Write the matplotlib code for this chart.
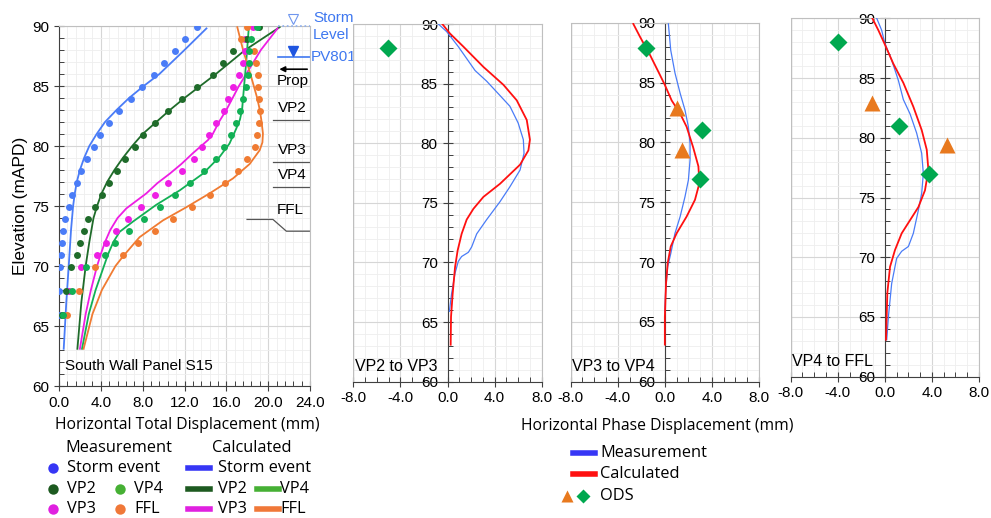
import matplotlib
matplotlib.use("Agg")
import matplotlib.pyplot as plt
from matplotlib.ticker import MultipleLocator, FormatStrFormatter

plt.rcParams['font.family'] = ['Liberation Sans', 'DejaVu Sans']

# ---------------- data: total displacement panel ----------------
elev_meas = [89.9, 88.9, 87.9, 86.9, 85.9, 84.9, 83.9, 82.9, 81.9, 80.9, 79.9, 78.9,
             77.9, 76.9, 75.9, 74.9, 73.9, 72.9, 71.9, 70.9, 69.9, 67.9, 65.9]
meas_storm = [13.2, 12.0, 11.1, 10.05, 9.06, 7.98, 6.86, 5.74, 4.79, 3.96, 3.32, 2.68,
              2.14, 1.69, 1.28, 0.93, 0.57, 0.38, 0.26, 0.16, 0.07, 0.0, 0.0]
meas_vp2 = [19.1, 18.0, 16.6, 15.7, 14.7, 13.15, 11.8, 10.4, 9.16, 8.03, 7.24, 6.28,
            5.5, 4.8, 4.15, 3.45, 2.8, 2.4, 2.0, 1.76, 1.12, 0.7, 0.3]
meas_vp3 = [18.55, 17.75, 17.8, 17.55, 17.2, 16.66, 16.18, 15.77, 15.05, 14.34, 13.67, 12.88,
            11.73, 10.46, 9.15, 7.88, 6.6, 5.49, 4.47, 3.67, 2.14, 1.0, 0.35]
meas_vp4 = [18.9, 18.4, 18.2, 18.15, 18.1, 17.9, 17.55, 17.35, 16.9, 16.4, 15.78, 14.98,
            13.87, 12.56, 11.12, 9.63, 8.1, 6.66, 5.4, 4.37, 2.55, 1.25, 0.38]
meas_ffl = [18.0, 17.4, 18.6, 18.8, 19.0, 19.0, 19.1, 19.2, 19.12, 18.96, 18.7, 18.0,
            17.1, 15.9, 14.4, 12.75, 10.9, 9.2, 7.6, 6.12, 3.48, 1.88, 0.76]

calc_storm_y = [89.8, 88, 86, 85, 84, 83, 82, 81, 80, 79, 78, 77, 76, 75, 73, 70, 67, 63.1]
calc_storm_x = [14.1, 12.0, 9.6, 8.1, 6.7, 5.5, 4.4, 3.6, 2.9, 2.4, 2.0, 1.7, 1.5, 1.35, 1.15, 0.93, 0.7, 0.45]
calc_vp2_y = [89.9, 88, 87, 86, 85, 84, 83, 82, 81, 80, 79, 78, 77, 76, 75, 74, 72, 70, 67, 63.1]
calc_vp2_x = [21.1, 17.8, 16.4, 15.0, 13.5, 12.0, 10.6, 9.3, 8.0, 7.0, 6.1, 5.3, 4.6, 4.05, 3.64, 3.3, 2.9, 2.55, 2.14, 1.76]
calc_vp3_y = [89.8, 88, 86, 85, 84, 83, 82.1, 81, 80.5, 79.4, 78.5, 77.7, 76.9, 76.05, 74.8, 74, 73,
              72, 71, 70, 68, 66, 63.1]
calc_vp3_x = [20.9, 19.3, 17.9, 17.2, 16.6, 16.0, 15.36, 14.7, 14.25, 12.8, 11.7, 10.6, 9.4, 8.35, 6.44,
              5.6, 4.9, 4.4, 4.0, 3.64, 3.05, 2.55, 2.0]
calc_vp4_y = [89.9, 87, 85, 83, 82.2, 81.45, 80.2, 79.1, 77.7, 76.3, 75.1, 73.7, 72.85, 72, 71, 70, 68, 66, 63.1]
calc_vp4_x = [18.15, 17.9, 17.7, 17.5, 17.3, 16.95, 16.3, 15.36, 13.77, 11.54, 9.3, 7.07, 5.8, 5.2, 4.7,
              4.3, 3.5, 2.85, 2.2]
calc_ffl_y = [89.9, 88, 86, 84, 83, 82.15, 81.04, 80.3, 79.65, 78.5, 77.3, 76.05, 74.9, 73.8, 72.4, 70.8,
              70, 68, 66, 63.1]
calc_ffl_x = [17.05, 17.6, 18.3, 18.95, 19.2, 19.35, 19.5, 19.45, 19.19, 18.23, 16.64, 14.4, 12.18, 9.94,
              7.7, 6.12, 5.4, 4.1, 3.2, 2.35]

# ---------------- data: phase displacement panels ----------------
p23_meas_y = [90, 89.36, 88.1, 87.1, 86.1, 85.2, 84.0, 83.1, 81.7, 80.3, 79.15, 77.75, 76.35, 75.1,
              73.6, 72.4, 71.3, 70.85, 70.5, 70.1, 69.1, 67.4, 65.9]
p23_meas_x = [-0.78, -0.07, 0.92, 1.63, 2.34, 3.33, 4.46, 5.3, 6.0, 6.44, 6.5, 6.16, 5.3, 4.46,
              3.33, 2.48, 2.05, 1.77, 1.2, 0.92, 0.64, 0.35, 0.16]
p23_calc_y = [90, 89.2, 88.1, 86.4, 84.9, 83.6, 81.95, 80.3, 79.4, 78.2, 76.6, 75.5, 74.5, 73.6,
              72.4, 71.0, 69.6, 67.4, 65.45, 63.1]
p23_calc_x = [-0.44, 0.21, 1.35, 3.05, 4.75, 5.88, 6.73, 7.0, 6.87, 6.16, 4.46, 3.05, 2.2, 1.63,
              1.2, 0.86, 0.64, 0.44, 0.3, 0.27]
p23_dia_x, p23_dia_y = [-5.02], [88.0]
p23_tri_x, p23_tri_y = [], []

p34_meas_y = [89.9, 87.7, 85.8, 84.1, 82.7, 81.3, 79.9, 78.5, 76.85, 75.45, 73.8, 72.4, 70.7, 69.6, 67.65, 65.85]
p34_meas_x = [0.3, 0.5, 0.86, 1.3, 1.71, 2.0, 2.14, 2.14, 2.0, 1.71, 1.3, 0.86, 0.5, 0.24, 0.07, 0.0]
p34_calc_y = [89.9, 88.8, 87.3, 85.9, 84.8, 83.5, 82.4, 81.3, 79.6, 78.0, 76.6, 75.2, 73.8, 72.4,
              71.3, 69.9, 68.2, 65.4, 63.1]
p34_calc_x = [-2.68, -2.1, -1.26, -0.55, 0.0, 0.58, 1.3, 1.85, 2.4, 2.85, 2.94, 2.56, 1.85, 1.0,
              0.5, 0.24, 0.1, 0.0, 0.0]
p34_dia_x, p34_dia_y = [-1.57, 3.13, 2.99], [87.9, 81.0, 76.9]
p34_tri_x, p34_tri_y = [1.0, 1.46], [82.9, 79.4]

p4f_meas_y = [90, 89.0, 87.9, 86.5, 84.8, 83.2, 82.0, 80.4, 78.7, 77.0, 75.35, 73.95, 72.0, 70.9,
              70.5, 69.9, 67.8, 65.0, 63.1]
p4f_meas_x = [-0.69, -0.27, 0.0, 0.58, 1.15, 1.57, 2.14, 2.7, 3.13, 3.27, 3.13, 2.85, 2.42, 2.0,
              1.43, 1.0, 0.58, 0.3, 0.16]
p4f_calc_y = [90, 89.0, 87.9, 86.2, 84.6, 82.6, 80.65, 79.0, 77.3, 75.6, 74.2, 73.1, 72.0, 70.6,
              69.2, 67.0, 63.1]
p4f_calc_x = [-1.06, -0.55, -0.04, 0.72, 1.57, 2.42, 3.13, 3.56, 3.7, 3.41, 2.85, 2.14, 1.43, 0.86,
              0.44, 0.21, 0.1]
p4f_dia_x, p4f_dia_y = [-4.0, 1.23, 3.78], [88.0, 81.0, 76.97]
p4f_tri_x, p4f_tri_y = [-1.12, 5.25], [82.9, 79.4]

# wall levels marked on the right of the first panel
storm_level = 90.0
pv801_level = 87.42
prop_level = 86.4
vp_levels = {"VP2": 82.2, "VP3": 78.68, "VP4": 76.6}

# colours
C_STORM = '#4a7cf7'
C_VP2 = '#1f6b2a'
C_VP3 = '#ee1ee4'
C_VP4 = '#12b055'
C_FFL = '#f07b32'
C_RED = '#ff1010'
C_DIA = '#00a84f'
C_TRI = '#e8791e'
GRID_MAJ = '#d6d6d6'
GRID_MIN = '#eeeeee'
SPINE = '#404040'
FS = 11


def style_grid(ax):
    ax.grid(which='major', color=GRID_MAJ, lw=0.8, zorder=0)
    ax.grid(which='minor', color=GRID_MIN, lw=0.6, zorder=0)
    ax.set_axisbelow(True)
    ax.tick_params(which='major', direction='inout', length=7, width=0.8, color=SPINE, labelsize=FS)
    ax.tick_params(which='minor', direction='in', length=3.5, width=0.7, color=SPINE)


def plot_total(ax):
    ax.set_xlim(0, 24)
    ax.set_ylim(60, 90)
    ax.xaxis.set_major_locator(MultipleLocator(4))
    ax.xaxis.set_minor_locator(MultipleLocator(0.8))
    ax.yaxis.set_major_locator(MultipleLocator(5))
    ax.yaxis.set_minor_locator(MultipleLocator(1))
    ax.xaxis.set_major_formatter(FormatStrFormatter('%.1f'))
    style_grid(ax)
    for s in ('top', 'right'):
        ax.spines[s].set_color('#bfbfbf')
    for s in ('left', 'bottom'):
        ax.spines[s].set_color(SPINE)

    curves = [(calc_storm_x, calc_storm_y, C_STORM), (calc_vp2_x, calc_vp2_y, C_VP2),
              (calc_vp3_x, calc_vp3_y, C_VP3), (calc_vp4_x, calc_vp4_y, C_VP4),
              (calc_ffl_x, calc_ffl_y, C_FFL)]
    for x, y, c in curves:
        ax.plot(x, y, color=c, lw=1.3, zorder=3)
    dots = [(meas_vp3, C_VP3), (meas_storm, C_STORM), (meas_vp2, C_VP2),
            (meas_ffl, C_FFL), (meas_vp4, C_VP4)]
    for x, c in dots:
        ax.plot(x, elev_meas, 'o', color=c, ms=5, mec='none', zorder=4)

    # level markers on the right side
    ax.plot([20.9, 24], [storm_level, storm_level], ls=':', color='#8fb0ee', lw=1.2, clip_on=False, zorder=5)
    ax.plot(22.4, storm_level + 0.6, marker='v', ms=7, mfc='none', mec='#6f96ee', mew=0.8, clip_on=False)
    ax.text(24.3, storm_level + 0.65, "Storm", color='#3f78f0', fontsize=FS, ha='left', va='center')
    ax.text(24.3, storm_level - 0.75, "Level", color='#3f78f0', fontsize=FS, ha='left', va='center')
    ax.plot([20.9, 24], [pv801_level, pv801_level], color='#3f78f0', lw=1.2, clip_on=False)
    ax.plot(22.4, pv801_level + 0.48, marker='v', ms=7.5, color='#1f55e0', clip_on=False)
    ax.text(24.1, pv801_level, "PV801", color='#3f78f0', fontsize=FS, ha='left', va='center')
    ax.annotate('', xy=(20.8, prop_level), xytext=(24, prop_level),
                arrowprops=dict(arrowstyle='-|>', color='black', lw=1.2, mutation_scale=8))
    ax.text(20.8, prop_level - 0.95, "Prop", fontsize=FS, ha='left', va='center')
    for name, lev in vp_levels.items():
        ax.plot([20.46, 24], [lev, lev], color='#555555', lw=0.9)
        ax.text(20.9, lev + 0.95, name, fontsize=FS, ha='left', va='center')
    ax.plot([17.98, 20.46, 21.74, 24], [73.88, 73.88, 72.9, 72.9], color='#555555', lw=0.9)
    ax.text(20.8, 74.65, "FFL", fontsize=FS, ha='left', va='center')
    ax.text(0.55, 61.65, "South Wall Panel S15", fontsize=FS, ha='left', va='center')
    ax.set_ylabel("Elevation (mAPD)", fontsize=12.5, labelpad=3)


def plot_phase(ax, mx, my, cx, cy, dx, dy, tx, ty, label):
    ax.set_xlim(-8, 8)
    ax.set_ylim(60, 90)
    ax.xaxis.set_major_locator(MultipleLocator(4))
    ax.xaxis.set_minor_locator(MultipleLocator(1))
    ax.yaxis.set_major_locator(MultipleLocator(5))
    ax.yaxis.set_minor_locator(MultipleLocator(1))
    ax.xaxis.set_major_formatter(FormatStrFormatter('%.1f'))
    style_grid(ax)
    ax.spines['left'].set_position(('data', 0))
    ax.spines['left'].set_color(SPINE)
    ax.spines['bottom'].set_color(SPINE)
    for s in ('top', 'right'):
        ax.spines[s].set_color('#bfbfbf')
    ax.axvline(-8, color='#bfbfbf', lw=1.0, zorder=1)
    ax.plot(mx, my, color=C_STORM, lw=0.9, zorder=3)
    ax.plot(cx, cy, color=C_RED, lw=1.3, zorder=3)
    if tx:
        ax.plot(tx, ty, '^', color=C_TRI, ms=11, mec='none', zorder=4)
    ax.plot(dx, dy, 'D', color=C_DIA, ms=9, mec='none', zorder=4)
    ax.text(-7.85, 61.25, label, fontsize=11.5, ha='left', va='center', zorder=6)


def draw_legends(fig):
    lg = fig.add_axes([0, 0, 1, 1])
    lg.set_xlim(0, 991)
    lg.set_ylim(518, 0)
    lg.axis('off')
    lf = dict(fontsize=11.8, va='center', ha='left', family=['Open Sans', 'DejaVu Sans'])
    lg.text(65, 448, "Measurement", **lf)
    lg.text(212, 448, "Calculated", **lf)
    rows = [(468, [("Storm event", '#3636f5', 53)]),
            (489, [("VP2", '#1d5a20', 53), ("VP4", '#46b034', 120)]),
            (509, [("VP3", '#e020e0', 53), ("FFL", '#f07838', 120)])]
    for y, items in rows:
        for name, c, x0 in items:
            lg.plot(x0, y, 'o', color=c, ms=7.5, mec='none')
            lg.text(x0 + 14, y, name, **lf)
            bx = 188 if x0 == 53 else 257
            lg.plot([bx, bx + 22], [y, y], color=c, lw=4)
            lg.text(bx + 30 if x0 == 53 else bx + 23, y, name, **lf)
    lg.plot([573, 595], [452.7, 452.7], color='#3636f5', lw=4)
    lg.text(600, 452.7, "Measurement", **lf)
    lg.plot([573, 595], [474, 474], color=C_RED, lw=4)
    lg.text(600, 474, "Calculated", **lf)
    lg.plot(566.5, 496, '^', color=C_TRI, ms=9, mec='none')
    lg.plot(583, 496, 'D', color=C_DIA, ms=7.5, mec='none')
    lg.text(600, 496, "ODS", **lf)
    lg.text(187, 425, "Horizontal Total Displacement (mm)", **dict(lf, ha='center', fontsize=11.3))
    lg.text(657, 426, "Horizontal Phase Displacement (mm)", **dict(lf, ha='center', fontsize=11.3))


if __name__ == "__main__":
    fig = plt.figure(figsize=(9.91, 5.18), dpi=100)
    ax1 = fig.add_axes([59 / 991, 1 - 386 / 518, 251 / 991, 360 / 518])
    ax2 = fig.add_axes([353.3 / 991, 1 - 381.7 / 518, 188.4 / 991, 357.7 / 518])
    ax3 = fig.add_axes([570.7 / 991, 1 - 381.7 / 518, 188.3 / 991, 359 / 518])
    ax4 = fig.add_axes([790.7 / 991, 1 - 376.7 / 518, 188.3 / 991, 358.4 / 518])

    plot_total(ax1)
    plot_phase(ax2, p23_meas_x, p23_meas_y, p23_calc_x, p23_calc_y,
               p23_dia_x, p23_dia_y, p23_tri_x, p23_tri_y, "VP2 to VP3")
    plot_phase(ax3, p34_meas_x, p34_meas_y, p34_calc_x, p34_calc_y,
               p34_dia_x, p34_dia_y, p34_tri_x, p34_tri_y, "VP3 to VP4")
    plot_phase(ax4, p4f_meas_x, p4f_meas_y, p4f_calc_x, p4f_calc_y,
               p4f_dia_x, p4f_dia_y, p4f_tri_x, p4f_tri_y, "VP4 to FFL")
    draw_legends(fig)

    fig.savefig("out.png", dpi=100)
